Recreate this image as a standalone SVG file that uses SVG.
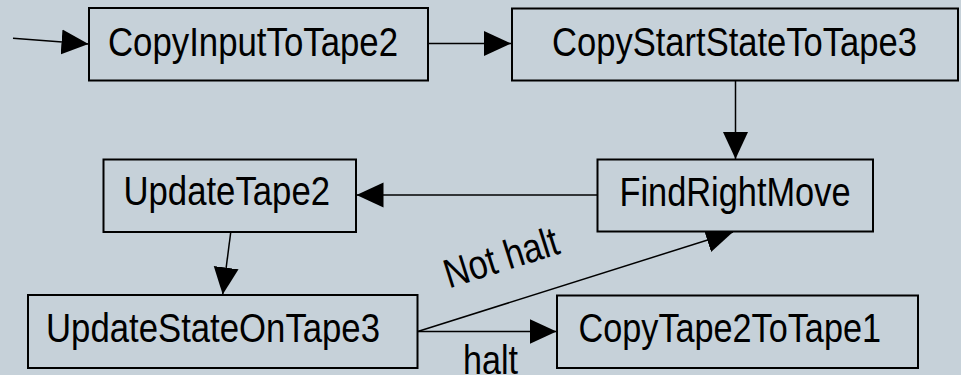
<svg xmlns="http://www.w3.org/2000/svg" width="961" height="375" viewBox="0 0 961 375">
<style>
.node rect{fill:#c6d1d9;stroke:#000;stroke-width:2}
.node text,.lbl{font-family:"Liberation Sans",Arial,sans-serif;font-size:41px;fill:#000}
.node text{text-anchor:start}
.edge{fill:none;stroke:#000;stroke-width:1.5;marker-end:url(#arr)}
</style>
<defs>
<marker id="arr" markerUnits="userSpaceOnUse" markerWidth="28" markerHeight="26" refX="27" refY="13" orient="auto">
<path d="M0,0.5 L27,13 L0,25.5 Z" fill="#000"/>
</marker>
</defs>
<rect x="0" y="0" width="961" height="375" fill="#c6d1d9"/>
<g id="edges">
<path class="edge" d="M13,38.3 L88.5,44"/>
<path class="edge" d="M428,43.5 L511,43.5"/>
<path class="edge" d="M735.5,81 L735.5,159"/>
<path class="edge" d="M597.5,195 L356.5,195"/>
<path class="edge" d="M230.7,232.5 L222.7,294.5"/>
<path class="edge" d="M417.7,331.5 L733,232"/>
<path class="edge" d="M417.7,331.5 L556.5,331.5"/>
<text class="lbl" x="0" y="0" textLength="118" lengthAdjust="spacingAndGlyphs" transform="translate(449,288.5) rotate(-17.5)">Not halt</text>
<text class="lbl" x="463" y="374" textLength="55" lengthAdjust="spacingAndGlyphs">halt</text>
</g>
<g id="CopyInputToTape2" class="node">
<rect x="89" y="8" width="339" height="72.5"/>
<text x="108" y="56" textLength="290" lengthAdjust="spacingAndGlyphs">CopyInputToTape2</text>
</g>
<g id="CopyStartStateToTape3" class="node">
<rect x="512" y="8.5" width="446" height="72"/>
<text x="552" y="55.5" textLength="365" lengthAdjust="spacingAndGlyphs">CopyStartStateToTape3</text>
</g>
<g id="UpdateTape2" class="node">
<rect x="103.5" y="159.5" width="252.5" height="72.5"/>
<text x="123.5" y="205" textLength="206.5" lengthAdjust="spacingAndGlyphs">UpdateTape2</text>
</g>
<g id="FindRightMove" class="node">
<rect x="597.5" y="159.5" width="275.5" height="72"/>
<text x="619.5" y="206" textLength="231" lengthAdjust="spacingAndGlyphs">FindRightMove</text>
</g>
<g id="UpdateStateOnTape3" class="node">
<rect x="28" y="295" width="389.5" height="73"/>
<text x="46" y="341.5" textLength="334" lengthAdjust="spacingAndGlyphs">UpdateStateOnTape3</text>
</g>
<g id="CopyTape2ToTape1" class="node">
<rect x="557" y="295.5" width="361" height="72.5"/>
<text x="578.5" y="341.5" textLength="302.5" lengthAdjust="spacingAndGlyphs">CopyTape2ToTape1</text>
</g>
</svg>
